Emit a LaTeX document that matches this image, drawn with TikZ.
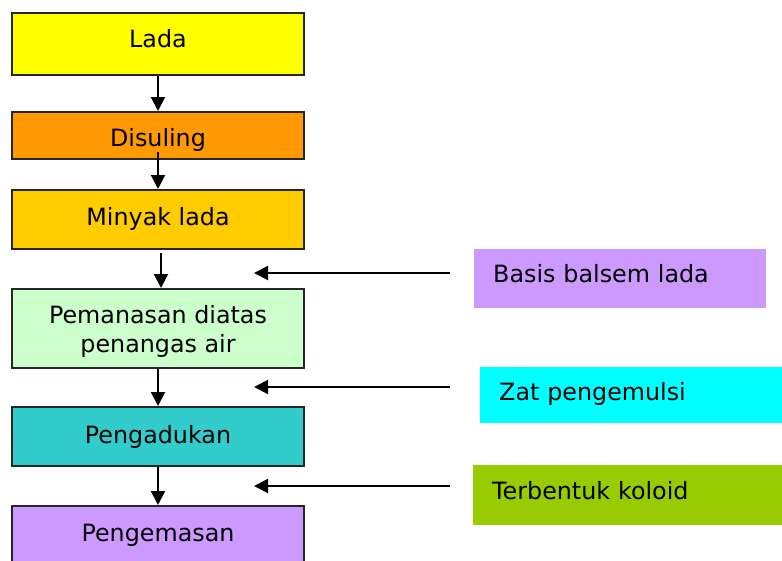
\documentclass[tikz,border=0pt]{standalone}
\usepackage{fontspec}
\setmainfont{DejaVu Sans}
\usetikzlibrary{arrows.meta}
\definecolor{cLada}{HTML}{FFFF00}
\definecolor{cDis}{HTML}{FF9900}
\definecolor{cMin}{HTML}{FFCC00}
\definecolor{cPem}{HTML}{CCFFCC}
\definecolor{cAdu}{HTML}{33CCCC}
\definecolor{cKem}{HTML}{CC99FF}
\definecolor{cBas}{HTML}{CC99FF}
\definecolor{cZat}{HTML}{00FFFF}
\definecolor{cTer}{HTML}{99CC00}
\begin{document}
\begin{tikzpicture}[x=1pt,y=-1pt,
  font=\fontsize{23.8}{29}\selectfont,
  flow/.style={draw=black!85, line width=2pt, minimum width=292pt, inner sep=0pt, anchor=north west, align=center},
  side/.style={inner xsep=19pt, inner ysep=0pt, anchor=north west, align=left},
  arr/.style={line width=2pt, -{Triangle[length=14pt,width=14pt]}}]
\useasboundingbox (0,0) rectangle (782,560);
% flow boxes
\node[flow, fill=cLada, minimum height=62pt, text height=17pt, text depth=11pt] (lada) at (11,12) {Lada};
\node[flow, fill=cDis, minimum height=47pt, text height=22pt, text depth=0pt] (dis) at (11,111) {Disuling};
\node[flow, fill=cMin, minimum height=59pt, text height=17pt, text depth=5pt] (min) at (11,189) {Minyak lada};
\node[flow, fill=cPem, minimum height=79pt] (pem) at (11,288) {\rule{0pt}{24pt}Pemanasan diatas\\penangas air};
\node[flow, fill=cAdu, minimum height=59pt, text height=17pt, text depth=4pt] (adu) at (11,406) {Pengadukan};
\node[flow, fill=cKem, minimum height=62pt, text height=17pt, text depth=8pt] (kem) at (11,505) {Pengemasan};
% side boxes
\node[side, fill=cBas, minimum width=292pt, text width=254pt, minimum height=59pt, text height=17pt, text depth=9pt] (bas) at (474,249) {Basis balsem lada};
\node[side, fill=cZat, minimum width=320pt, text width=282pt, minimum height=56pt, text height=17pt, text depth=7pt] (zat) at (480,367) {Zat pengemulsi};
\node[side, fill=cTer, minimum width=320pt, text width=282pt, minimum height=60pt, text height=17pt, text depth=9pt] (ter) at (473,465) {Terbentuk koloid};
% vertical arrows
\draw[arr] (lada.south) -- (dis.north);
\draw[arr] ([yshift=8pt]dis.south) -- (min.north);
\draw[arr] ([xshift=3pt,yshift=-3pt]min.south) -- ([xshift=3pt]pem.north);
\draw[arr] (pem.south) -- (adu.north);
\draw[arr] (adu.south) -- (kem.north);
% horizontal arrows
\coordinate (h1s) at (450,273);
\coordinate (h1e) at (254,273);
\coordinate (h2s) at (450,387);
\coordinate (h2e) at (254,387);
\coordinate (h3s) at (450,486);
\coordinate (h3e) at (254,486);
\draw[arr] (h1s) -- (h1e);
\draw[arr] (h2s) -- (h2e);
\draw[arr] (h3s) -- (h3e);
\end{tikzpicture}
\end{document}
